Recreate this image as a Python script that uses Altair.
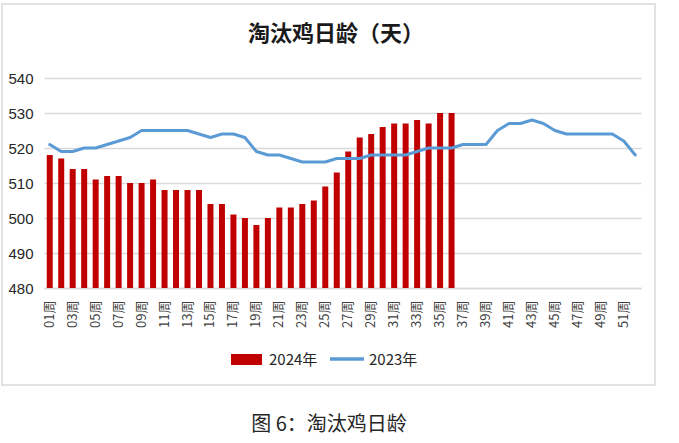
import altair as alt
import pandas as pd

weeks = [f"{i:02d}周" for i in range(1, 53)]
tick_labels = [f"{i:02d}周" for i in range(1, 53, 2)]

v2024 = [518, 517, 514, 514, 511, 512, 512, 510, 510, 511,
         508, 508, 508, 508, 504, 504, 501, 500, 498, 500,
         503, 503, 504, 505, 509, 513, 519, 523, 524, 526,
         527, 527, 528, 527, 530, 530]

v2023 = [521, 519, 519, 520, 520, 521, 522, 523, 525, 525,
         525, 525, 525, 524, 523, 524, 524, 523, 519, 518,
         518, 517, 516, 516, 516, 517, 517, 517, 518, 518,
         518, 518, 519, 520, 520, 520, 521, 521, 521, 525,
         527, 527, 528, 527, 525, 524, 524, 524, 524, 524,
         522, 518]

y_ticks = [480, 490, 500, 510, 520, 530, 540]
y_base = 480

df24 = pd.DataFrame({"week": weeks[:len(v2024)], "value": v2024})
df23 = pd.DataFrame({"week": weeks, "value": v2023})

x_axis = alt.Axis(values=tick_labels, labelAngle=-90, ticks=False, labelPadding=12,
                  labelFontSize=13, labelFont="Noto Sans CJK SC", labelColor="#404040",
                  domain=True, domainColor="#d9d9d9", domainWidth=1.5, grid=False, title=None)
x_scale = alt.Scale(domain=weeks, paddingInner=0.5, paddingOuter=0.25)
y_scale = alt.Scale(domain=[480, 540], nice=False, zero=False)
y_axis = alt.Axis(values=y_ticks, grid=True, gridColor="#d9d9d9", gridWidth=1.5, domain=False,
                  ticks=False, labelPadding=11, labelFontSize=15, labelFont="Liberation Sans",
                  labelColor="#262626", title=None, labelOverlap=False)

bars = alt.Chart(df24).mark_bar(color="#C00000", size=6).encode(
    x=alt.X("week:N", sort=weeks, scale=x_scale, axis=x_axis),
    y=alt.Y("value:Q", scale=y_scale, axis=y_axis),
    y2=alt.datum(y_base),
)

line = alt.Chart(df23).mark_line(color="#5B9BD5", strokeWidth=3, strokeCap="round", strokeJoin="round").encode(
    x=alt.X("week:N", sort=weeks, scale=x_scale, axis=x_axis),
    y=alt.Y("value:Q", scale=y_scale, axis=y_axis),
)

one = pd.DataFrame({"k": [0]})

border = alt.Chart(one).mark_rect(fill=None, stroke="#d9d9d9", strokeWidth=1.5).encode(
    x=alt.value(-42), x2=alt.value(611), y=alt.value(-74), y2=alt.value(307)
)

title = alt.Chart(one).mark_text(font="Noto Sans CJK SC", fontSize=22, fontWeight="bold",
                                 color="#1a1a1a", align="center", baseline="middle").encode(
    x=alt.value(292), y=alt.value(-44), text=alt.value("淘汰鸡日龄（天）")
)

caption = alt.Chart(one).mark_text(font="Noto Sans CJK SC", fontSize=20, color="#262626",
                                   align="center", baseline="middle").encode(
    x=alt.value(285), y=alt.value(347), text=alt.value("图 6：淘汰鸡日龄")
)

leg_rect = alt.Chart(one).mark_rect(color="#C00000").encode(
    x=alt.value(187), x2=alt.value(218), y=alt.value(276), y2=alt.value(287)
)
leg_t1 = alt.Chart(one).mark_text(font="Noto Sans CJK SC", fontSize=15, color="#262626",
                                  align="left", baseline="middle").encode(
    x=alt.value(225), y=alt.value(282), text=alt.value("2024年")
)
leg_line = alt.Chart(one).mark_rule(color="#5B9BD5", strokeWidth=3.5).encode(
    x=alt.value(286), x2=alt.value(320), y=alt.value(281)
)
leg_t2 = alt.Chart(one).mark_text(font="Noto Sans CJK SC", fontSize=15, color="#262626",
                                  align="left", baseline="middle").encode(
    x=alt.value(325), y=alt.value(282), text=alt.value("2023年")
)

chart = alt.layer(border, bars, line, title, caption, leg_rect, leg_t1, leg_line, leg_t2).properties(
    width=597, height=210,
    autosize=alt.AutoSizeParams(type="none"),
    padding={"left": 44, "top": 78, "right": 38, "bottom": 155},
    background="white",
).configure_view(stroke=None)

chart.save("out.html", embed_options={"renderer": "svg", "actions": False})
